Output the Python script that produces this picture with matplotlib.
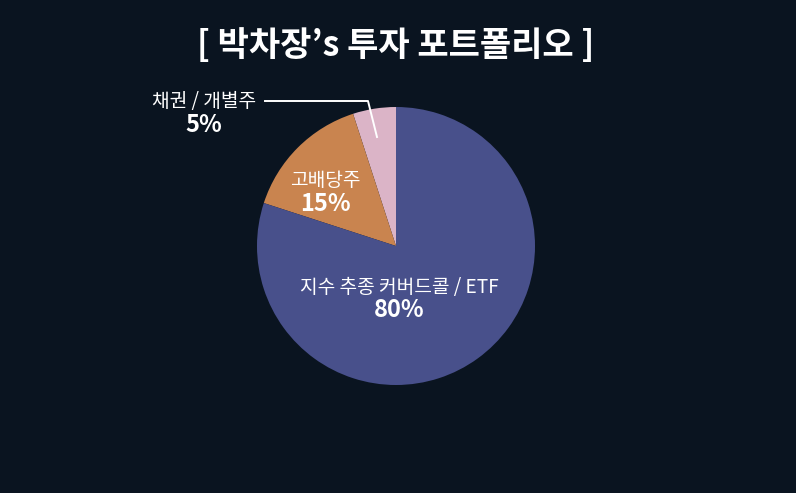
import matplotlib.pyplot as plt
from matplotlib.lines import Line2D

plt.rcParams['font.family'] = ['Noto Sans CJK KR', 'DejaVu Sans']

# portfolio data
categories = ['채권 / 개별주', '고배당주', '지수 추종 커버드콜 / ETF']
shares = [5, 15, 80]
colors = ['#dbb4c7', '#c9844f', '#48508b']
title = '[ 박차장’s 투자 포트폴리오 ]'

bg = '#0a1420'
W, H = 796, 493

fig = plt.figure(figsize=(W / 100, H / 100), dpi=100, facecolor=bg)
ax = fig.add_axes([0, 0, 1, 1])
ax.set_facecolor(bg)

# pie drawn in pixel space (y up)
ax.pie(shares, colors=colors, startangle=90, counterclock=True,
       center=(396, 247), radius=139,
       wedgeprops=dict(linewidth=0))
ax.set_xlim(0, W)
ax.set_ylim(0, H)
ax.set_aspect('equal')
ax.axis('off')

ax.text(396, H - 45, title, color='white', fontsize=24.5, fontweight='heavy',
        ha='center', va='center')

# label positions (pixel, y from top)
label_pos = [(204, 102), (325, 181), (399, 287)]
for name, val, (x, y) in zip(categories, shares, label_pos):
    ax.text(x, H - y, name, color='white', fontsize=13.8,
            ha='center', va='center')
    ax.text(x, H - y - 23, f'{val}%', color='white', fontsize=17,
            fontweight='bold', ha='center', va='center')

# leader line for the small slice
ax.add_line(Line2D([265, 368, 377], [H - 101, H - 101, H - 137],
                   color='white', linewidth=1.4))

fig.savefig('out.png', dpi=100, facecolor=bg)
